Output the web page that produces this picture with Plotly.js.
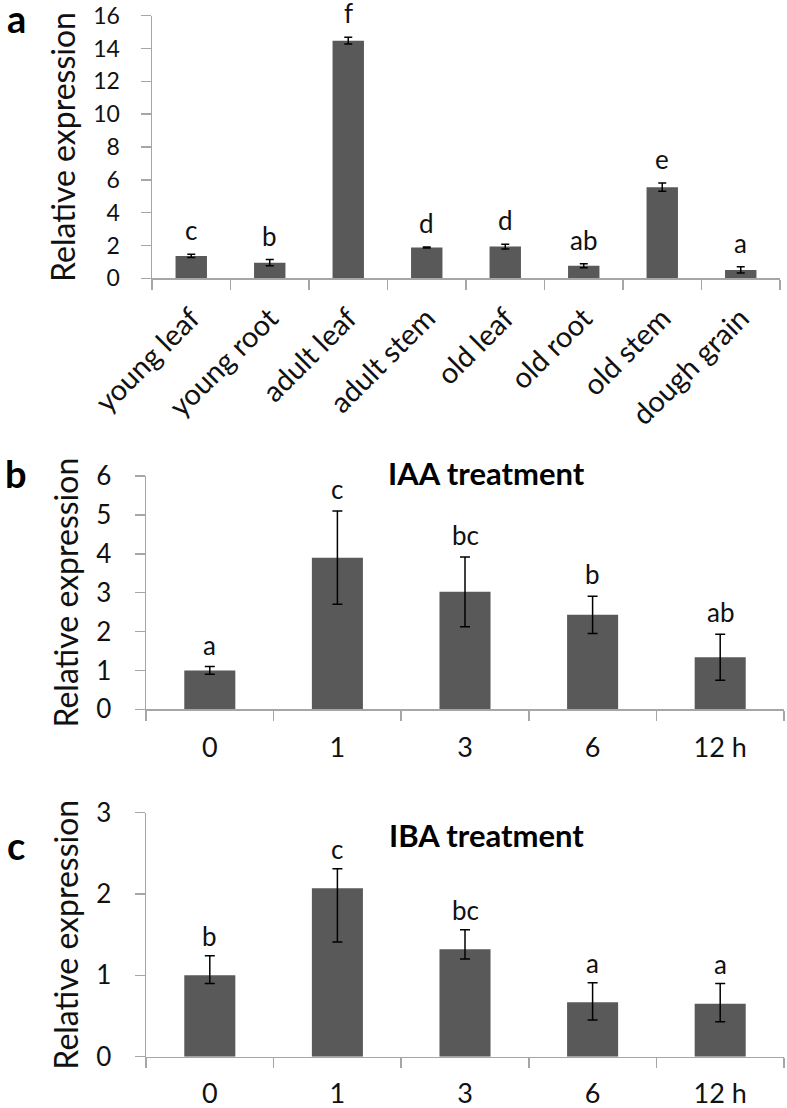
<!DOCTYPE html>
<html>
<head>
<meta charset="utf-8">
<script src="https://cdn.plot.ly/plotly-3.0.1.min.js"></script>
<style>
html,body{margin:0;padding:0;background:#fff;}
#chart{width:787px;height:1108px;}
</style>
</head>
<body>
<div id="chart"></div>
<script>
// ---- Panel a: tissues ----
const tissues = ['young leaf','young root','adult leaf','adult stem','old leaf','old root','old stem','dough grain'];
const tissueExpr = [1.36, 0.95, 14.48, 1.87, 1.93, 0.77, 5.55, 0.51];
const tissueErr = [0.10, 0.19, 0.20, 0.03, 0.14, 0.12, 0.25, 0.19];
const tissueLetters = ['c','b','f','d','d','ab','e','a'];
const tissueTicks = [0,2,4,6,8,10,12,14,16];

// ---- Panel b: IAA treatment ----
const times = ['0','1','3','6','12 h'];
const iaaExpr = [1.00, 3.90, 3.02, 2.43, 1.34];
const iaaErr = [0.10, 1.20, 0.90, 0.48, 0.59];
const iaaLetters = ['a','c','bc','b','ab'];
const iaaTicks = [0,1,2,3,4,5,6];

// ---- Panel c: IBA treatment ----
const ibaExpr = [1.00, 2.07, 1.32, 0.67, 0.65];
const ibaErrPlus = [0.24, 0.24, 0.24, 0.24, 0.25];
const ibaErrMinus = [0.10, 0.66, 0.12, 0.22, 0.22];
const ibaLetters = ['b','c','bc','a','a'];
const ibaTicks = [0,1,2,3];

const panelLabels = ['a','b','c'];
const panelTitles = ['IAA treatment','IBA treatment'];
const yTitle = 'Relative expression';

const FONT = 'Lato, "Open Sans", sans-serif';
const BAR = '#595959';
const AXIS = '#a6a6a6';

const traces = [
  {type:'bar', x:tissues, y:tissueExpr, xaxis:'x', yaxis:'y', marker:{color:BAR},
   error_y:{type:'data', array:tissueErr, visible:true, color:'#000', thickness:1.5, width:4}},
  {type:'bar', x:times, y:iaaExpr, xaxis:'x2', yaxis:'y2', marker:{color:BAR},
   error_y:{type:'data', array:iaaErr, visible:true, color:'#000', thickness:1.5, width:5}},
  {type:'bar', x:times, y:ibaExpr, xaxis:'x3', yaxis:'y3', marker:{color:BAR},
   error_y:{type:'data', symmetric:false, array:ibaErrPlus, arrayminus:ibaErrMinus, visible:true, color:'#000', thickness:1.5, width:5}}
];

function xax(domain, anchor, n, extra){
  return Object.assign({
    domain:domain, anchor:anchor, type:'category', range:[-0.5, n - 0.5],
    showline:true, linecolor:AXIS, linewidth:1.5,
    ticks:'outside', ticklen:10, tickcolor:AXIS, tickwidth:1.5,
    tickson:'boundaries', showgrid:false, zeroline:false,
    tickfont:{family:FONT, size:27, color:'#111'}, fixedrange:true
  }, extra||{});
}
function yax(domain, anchor, range, tickvals, extra){
  return Object.assign({
    domain:domain, anchor:anchor, range:range, tickvals:tickvals,
    showline:true, linecolor:AXIS, linewidth:1.5,
    ticks:'outside', ticklen:10, tickcolor:AXIS, tickwidth:1.5,
    showgrid:false, zeroline:false, ticklabeloverflow:'allow',
    tickfont:{family:FONT, size:26, color:'#111'},
    title:{text:yTitle, font:{family:FONT, size:32, color:'#111'}, standoff:8},
    fixedrange:true
  }, extra||{});
}

const W = 787, H = 1108;
const px = v => v / W;
const py = v => 1 - v / H;

const annotations = [];
function letters(n, ys, plus, lets, xref, yref, shift, size){
  for (let i = 0; i < n; i++){
    annotations.push({x:i, y:ys[i] + plus[i], xref:xref, yref:yref, text:lets[i],
      showarrow:false, yanchor:'bottom', yshift:shift,
      font:{family:FONT, size:size, color:'#111'}});
  }
}
letters(tissues.length, tissueExpr, tissueErr, tissueLetters, 'x', 'y', 6, 26);
letters(times.length, iaaExpr, iaaErr, iaaLetters, 'x2', 'y2', 4, 26);
letters(times.length, ibaExpr, ibaErrPlus, ibaLetters, 'x3', 'y3', 2, 26);

const labelY = [18, 473, 845];
panelLabels.forEach((t, i) => annotations.push({
  x:px(16), y:py(labelY[i]), xref:'paper', yref:'paper', text:'<b>'+t+'</b>',
  showarrow:false, xanchor:'center', yanchor:'middle',
  font:{family:FONT, size:38, color:'#000'}
}));
const titleY = [473, 835];
panelTitles.forEach((t, i) => annotations.push({
  x:px(487), y:py(titleY[i]), xref:'paper', yref:'paper', text:'<b>'+t+'</b>',
  showarrow:false, xanchor:'center', yanchor:'middle',
  font:{family:FONT, size:31, color:'#000'}
}));

const layout = {
  width:W, height:H, margin:{l:0, r:0, t:0, b:0},
  paper_bgcolor:'#fff', plot_bgcolor:'#fff',
  showlegend:false, bargap:0.6,
  font:{family:FONT, color:'#111'},
  xaxis: xax([px(152), px(780)], 'y', tissues.length, {tickangle:-45, ticklabelstandoff:10, tickfont:{family:FONT, size:29, color:'#111'}}),
  yaxis: yax([py(278.3), py(15.7)], 'x', [0,16], tissueTicks, {tickfont:{family:FONT, size:23, color:'#111'}, ticklabelstandoff:16}),
  xaxis2: xax([px(146), px(784)], 'y2', times.length, {ticklabelstandoff:14}),
  yaxis2: yax([py(709.3), py(476)], 'x2', [0,6], iaaTicks, {ticklabelstandoff:18}),
  xaxis3: xax([px(146), px(784)], 'y3', times.length, {ticklabelstandoff:12}),
  yaxis3: yax([py(1056.7), py(812.7)], 'x3', [0,3], ibaTicks, {ticklabelstandoff:18}),
  annotations: annotations
};

Plotly.newPlot('chart', traces, layout, {displayModeBar:false, staticPlot:true});
</script>
</body>
</html>
